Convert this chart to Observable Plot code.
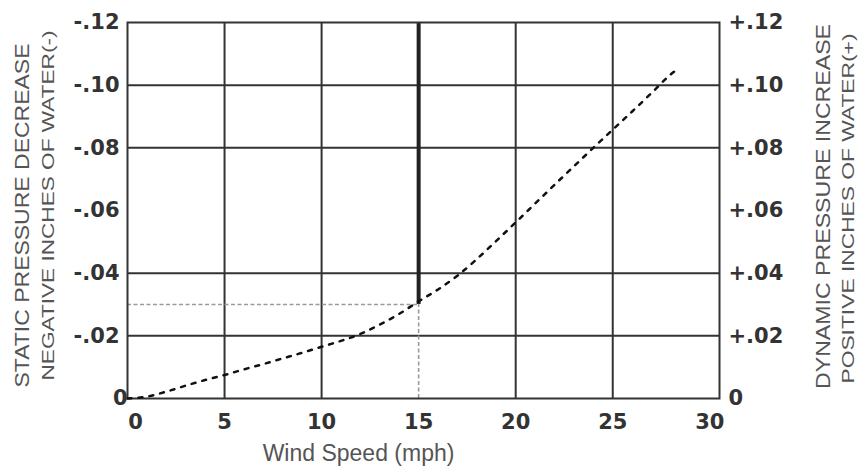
<!DOCTYPE html>
<html><head><meta charset="utf-8">
<script src="https://cdn.jsdelivr.net/npm/d3@7"></script>
<script src="https://cdn.jsdelivr.net/npm/@observablehq/plot@0.6"></script>
<style>body{margin:0;background:#fff} svg{display:block}</style>
</head><body><div id="chart"></div>
<script>
// Data
const windSpeed = [0, 1, 2, 3, 4, 5, 6, 7, 8, 9, 10, 11, 12, 13, 14, 15, 16, 17, 18, 19, 20, 21, 22, 23, 24, 25, 26, 27, 28, 28.2];
const pressure  = [0, 0.0006, 0.0022, 0.0041, 0.0059, 0.0075, 0.0093, 0.011, 0.0128, 0.0146, 0.0165, 0.0184, 0.0206, 0.0236, 0.027, 0.031, 0.0348, 0.0392, 0.0445, 0.0503, 0.0562, 0.0622, 0.0682, 0.0741, 0.080, 0.0858, 0.0916, 0.0975, 0.1035, 0.1045];
const xTicks = [0, 5, 10, 15, 20, 25, 30];
const yTicks = [0, 0.02, 0.04, 0.06, 0.08, 0.10, 0.12];
const yGrid = [0.02, 0.04, 0.08, 0.10];   // no line drawn at .06 in the source
const leftLabels  = ["0", "-.02", "-.04", "-.06", "-.08", "-.10", "-.12"];
const rightLabels = ["0", "+.02", "+.04", "+.06", "+.08", "+.10", "+.12"];
const refSpeed = 15, refPressure = 0.03;
const xTitle = "Wind Speed (mph)";
const leftTitles = ["STATIC PRESSURE DECREASE", "NEGATIVE INCHES OF WATER(-)"];
const rightTitles = ["DYNAMIC PRESSURE INCREASE", "POSITIVE INCHES OF WATER(+)"];

const data = windSpeed.map((v, i) => ({v, p: pressure[i]}));
const gridCol = "#333";
const tickFont = {fontSize: 21, fontWeight: "bold", fill: "#333", fontFamily: "'DejaVu Sans', sans-serif"};

const chart = Plot.plot({
  width: 858, height: 466,
  marginLeft: 127, marginRight: 139, marginTop: 22, marginBottom: 68,
  style: {fontFamily: "'Liberation Sans', Arial, sans-serif", background: "#fff"},
  x: {domain: [0, 30.5]},
  y: {domain: [0, 0.12]},
  marks: [
    Plot.ruleX(xTicks.filter(d => d > 0 && d < 30 && d !== refSpeed), {stroke: gridCol, strokeWidth: 2}),
    Plot.ruleY(yGrid, {stroke: gridCol, strokeWidth: 2}),
    Plot.ruleX([refSpeed], {y1: refPressure, y2: 0.12, stroke: "#222", strokeWidth: 4}),
    Plot.ruleX([refSpeed], {y1: 0, y2: refPressure, stroke: "#9a9a9a", strokeWidth: 1.6, strokeDasharray: "4,2.5"}),
    Plot.ruleY([refPressure], {x1: 0, x2: refSpeed, stroke: "#9a9a9a", strokeWidth: 1.6, strokeDasharray: "4,2.5"}),
    Plot.frame({stroke: gridCol, strokeWidth: 2}),
    Plot.line(data, {x: "v", y: "p", curve: "monotone-x", stroke: "#111", strokeWidth: 2.5, strokeDasharray: "4,7"}),
    Plot.axisX(xTicks.slice(1), {tickSize: 0, tickPadding: 16, tickFormat: d => String(d), ...tickFont, label: null}),
    Plot.axisX([0], {tickSize: 0, tickPadding: 16, dx: 8, tickFormat: d => String(d), ...tickFont, label: null}),
    Plot.axisY(yTicks.slice(1), {anchor: "left", tickSize: 0, tickPadding: 8, tickFormat: d => leftLabels[yTicks.indexOf(d)], ...tickFont, label: null}),
    Plot.axisY([0], {anchor: "left", tickSize: 0, tickPadding: 0, tickFormat: () => leftLabels[0], ...tickFont, label: null}),
    Plot.axisY(yTicks, {anchor: "right", tickSize: 0, tickPadding: 9, tickFormat: d => rightLabels[yTicks.indexOf(d)], ...tickFont, label: null}),
    Plot.text([xTitle], {frameAnchor: "bottom", dx: -65, dy: 55, fontSize: 23, fill: "#555", lineAnchor: "middle"}),
    Plot.text([leftTitles[0]], {frameAnchor: "left", dx: -105, dy: 5, rotate: -90, fontSize: 21, fill: "#555", lineAnchor: "middle"}),
    Plot.text([leftTitles[1]], {frameAnchor: "left", dx: -79, dy: -5, rotate: -90, fontSize: 16, fill: "#555", lineAnchor: "middle"}),
    Plot.text([rightTitles[0]], {frameAnchor: "right", dx: 104, dy: -4, rotate: -90, fontSize: 21, fill: "#555", lineAnchor: "middle"}),
    Plot.text([rightTitles[1]], {frameAnchor: "right", dx: 129, dy: -2, rotate: -90, fontSize: 16, fill: "#555", lineAnchor: "middle"})
  ]
});
document.getElementById("chart").appendChild(chart);

// fit the rotated titles to the lengths seen in the reference
const lengths = {};
lengths[leftTitles[0]] = 344; lengths[leftTitles[1]] = 350;
lengths[rightTitles[0]] = 365; lengths[rightTitles[1]] = 350;
d3.select(chart).selectAll("text").each(function() {
  const t = this.textContent;
  if (lengths[t]) {
    const L = lengths[t];
    this.setAttribute("text-anchor", "start");
    this.setAttribute("x", -L / 2);
    this.setAttribute("textLength", L);
    this.setAttribute("lengthAdjust", "spacingAndGlyphs");
  }
});
</script>
</body></html>
